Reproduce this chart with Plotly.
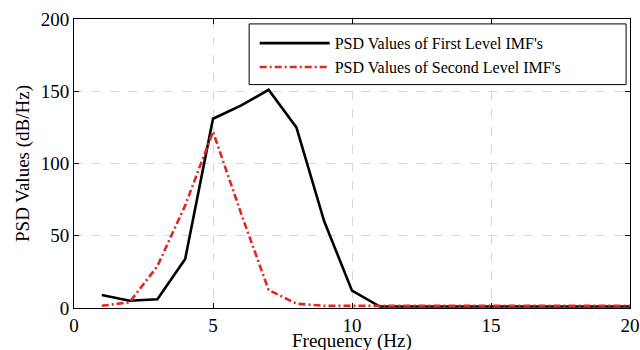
import plotly.graph_objects as go

freq = list(range(1, 21))
psd_first = [9, 5, 6, 34, 131, 140, 151, 125, 60, 12, 1, 1, 1, 1, 1, 1, 1, 1, 1, 1]
psd_second = [1.5, 4, 29, 71, 122, 66, 12.5, 3, 1.5, 1.5, 1.5, 1.5, 1.5, 1.5, 1.5, 1.5, 1.5, 1.5, 1.5, 1.5]
x_ticks = [0, 5, 10, 15, 20]
y_ticks = [0, 50, 100, 150, 200]

FONT = "Times New Roman, Liberation Serif, serif"

fig = go.Figure()
fig.add_trace(go.Scatter(x=freq, y=psd_first, mode="lines",
                         name="PSD Values of First Level IMF's",
                         line=dict(color="black", width=2.6)))
fig.add_trace(go.Scatter(x=freq, y=psd_second, mode="lines",
                         name="PSD Values of Second Level IMF's",
                         line=dict(color="rgb(226,38,32)", width=2.6, dash="7px,3px,2px,3px")))

axis_common = dict(showline=True, linecolor="black", linewidth=1, mirror="ticks",
                   ticks="inside", ticklen=5, tickcolor="black",
                   showgrid=True, gridcolor="rgb(215,215,215)", griddash="dash", gridwidth=1,
                   zeroline=False, automargin=False,
                   tickfont=dict(family=FONT, size=19, color="black"))

fig.update_xaxes(range=[0, 20], tickvals=x_ticks, **axis_common)
fig.update_yaxes(range=[0, 200], tickvals=y_ticks,
                 title=dict(text="PSD Values (dB/Hz)", font=dict(family=FONT, size=19, color="black"), standoff=6),
                 **axis_common)

fig.add_annotation(text="Frequency (Hz)", xref="paper", yref="paper", x=0.5, y=0,
                   xanchor="center", yanchor="top", yshift=-20, showarrow=False,
                   font=dict(family=FONT, size=19, color="black"))

fig.add_shape(type="rect", xref="paper", yref="paper",
              x0=0.315, x1=0.993, y0=0.773, y1=0.983,
              line=dict(color="black", width=1), fillcolor="white", layer="above")

fig.update_layout(
    width=640, height=350,
    margin=dict(l=74, r=10, t=19, b=42),
    paper_bgcolor="white", plot_bgcolor="white",
    legend=dict(x=0.325, y=0.975, xanchor="left", yanchor="top",
                bgcolor="rgba(0,0,0,0)", borderwidth=0,
                font=dict(family=FONT, size=16, color="black"),
                tracegroupgap=0, itemwidth=70),
    showlegend=True,
)

fig.write_html("out.html")
